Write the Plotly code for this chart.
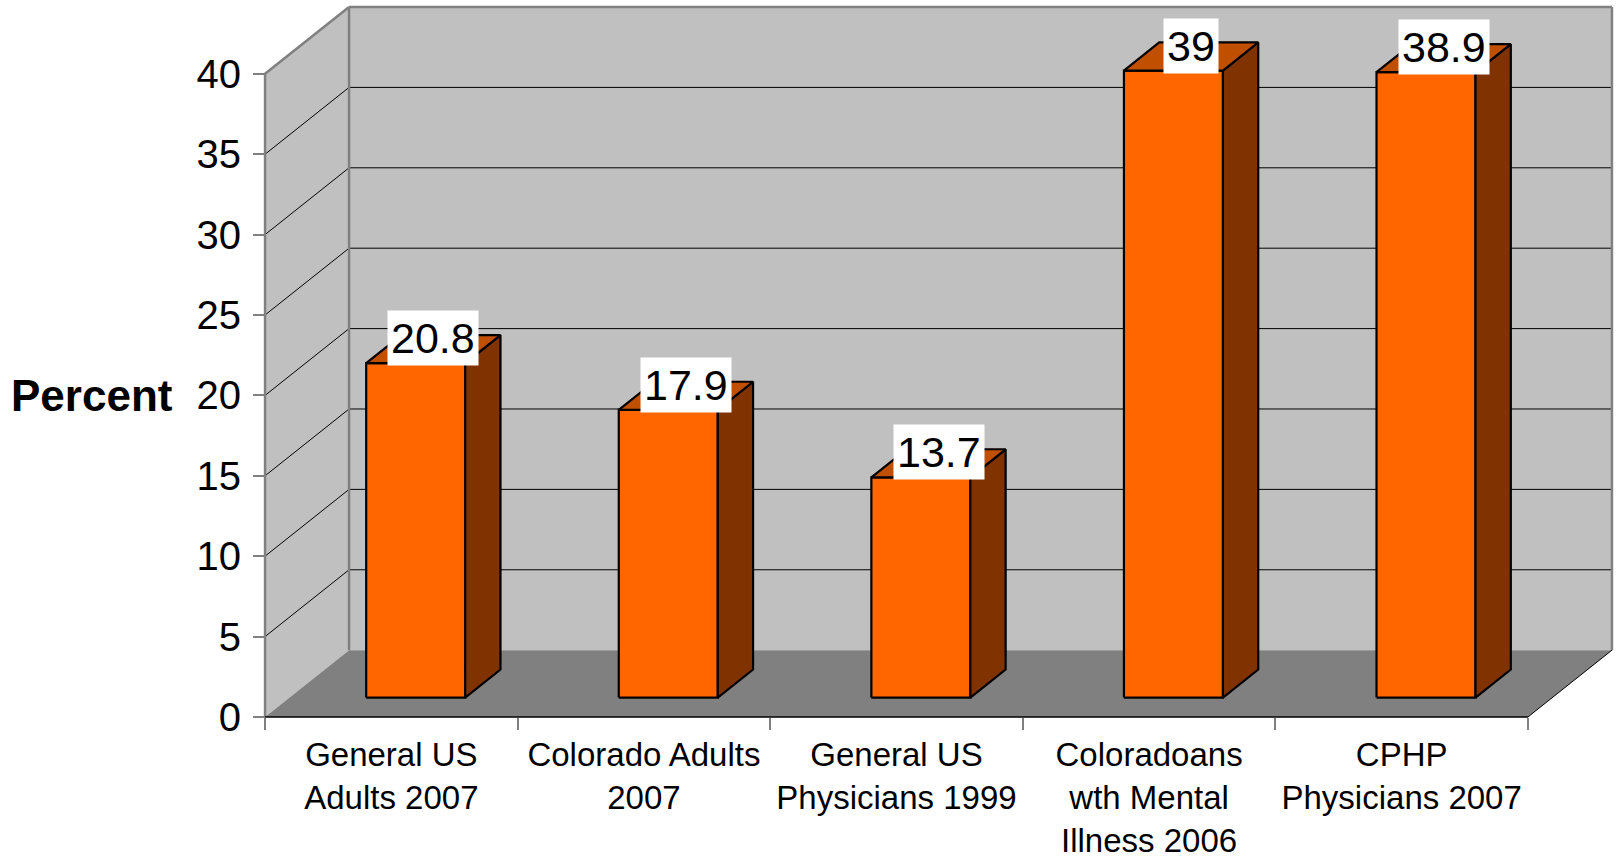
import plotly.graph_objects as go

# ---------------- data ----------------
categories = [
    "General US<br>Adults 2007",
    "Colorado Adults<br>2007",
    "General US<br>Physicians 1999",
    "Coloradoans<br>wth Mental<br>Illness 2006",
    "CPHP<br>Physicians 2007",
]
values = [20.8, 17.9, 13.7, 39, 38.9]
y_ticks = [0, 5, 10, 15, 20, 25, 30, 35, 40]
y_max = 40
axis_title = "Percent"

# ---------------- layout geometry ----------------
W, H = 1619, 861
PX0, PX5 = 265, 1528      # pixel of front x=0 and x=n
PY0, PYTOP = 719, 74      # pixel of front y=0 and y=y_max
DEPTH_PX = (84, 67)       # oblique depth offset in pixels
n = len(categories)
kx = (PX5 - PX0) / n
ky = (PY0 - PYTOP) / y_max
DX = DEPTH_PX[0] / kx
DY = DEPTH_PX[1] / ky
pad_x, pad_y = 0.02, 0.25
xr = [-pad_x, n + DX + pad_x]
yr = [-pad_y, y_max + DY + pad_y]
ml = PX0 - pad_x * kx
mr = max(0, W - (PX0 + (n + DX + pad_x) * kx))
mb = H - (PY0 + pad_y * ky)
mt = max(0, PY0 - (y_max + DY + pad_y) * ky)

FONT = "Liberation Sans, Arial, sans-serif"
WALL = "#C0C0C0"
FLOOR = "#808080"
EDGE = "#808080"
BAR_FRONT = "#FF6600"
BAR_SIDE = "#803300"
BAR_TOP = "#C05000"

BAR_HALF = 0.196
D0, D1 = 0.29, 0.71


def P(x, y, d=0.0):
    return (x + d * DX, y + d * DY)


def path(pts):
    return "M " + " L ".join(f"{x},{y}" for x, y in pts) + " Z"


shapes = []
# side wall
shapes.append(dict(type="path", xref="x", yref="y", layer="below",
                   path=path([P(0, 0), P(0, 0, 1), P(0, y_max, 1), P(0, y_max)]),
                   fillcolor=WALL, line=dict(width=0)))
# back wall
shapes.append(dict(type="path", xref="x", yref="y", layer="below",
                   path=path([P(0, 0, 1), P(n, 0, 1), P(n, y_max, 1), P(0, y_max, 1)]),
                   fillcolor=WALL, line=dict(width=0)))
# floor
shapes.append(dict(type="path", xref="x", yref="y", layer="below",
                   path=path([P(0, 0), P(n, 0), P(n, 0, 1), P(0, 0, 1)]),
                   fillcolor=FLOOR, line=dict(width=0)))


def seg(a, b, color, width):
    shapes.append(dict(type="line", xref="x", yref="y", layer="below",
                       x0=a[0], y0=a[1], x1=b[0], y1=b[1],
                       line=dict(color=color, width=width)))


# gridlines
for v in y_ticks:
    if v == 0 or v == y_max:
        continue
    seg(P(0, v), P(0, v, 1), "black", 1)
    seg(P(0, v, 1), P(n, v, 1), "black", 1)

# wall edges
seg(P(0, 0), P(0, y_max), EDGE, 2.5)
seg(P(0, y_max), P(0, y_max, 1), EDGE, 2.5)
seg(P(0, 0, 1), P(0, y_max, 1), EDGE, 2.5)
seg(P(0, y_max, 1), P(n, y_max, 1), EDGE, 2.5)
seg(P(n, y_max, 1), P(n, 0, 1), EDGE, 2.5)
# floor edges
seg(P(0, 0), P(n, 0), "black", 1.5)
seg(P(n, 0), P(n, 0, 1), "black", 1)

fig = go.Figure()

annotations = []
for i, v in enumerate(values):
    cx = i + 0.5
    l, r = cx - BAR_HALF, cx + BAR_HALF
    faces = [
        ([P(l, 0, D0), P(r, 0, D0), P(r, v, D0), P(l, v, D0)], BAR_FRONT),
        ([P(r, 0, D0), P(r, 0, D1), P(r, v, D1), P(r, v, D0)], BAR_SIDE),
        ([P(l, v, D0), P(r, v, D0), P(r, v, D1), P(l, v, D1)], BAR_TOP),
    ]
    for pts, col in faces:
        xs = [p[0] for p in pts] + [pts[0][0]]
        ys = [p[1] for p in pts] + [pts[0][1]]
        fig.add_trace(go.Scatter(x=xs, y=ys, mode="lines", fill="toself",
                                 fillcolor=col, line=dict(color="black", width=2.2),
                                 hoverinfo="skip", showlegend=False))
    tx, ty = P(cx, v, (D0 + D1) / 2)
    annotations.append(dict(x=tx, y=ty, xref="x", yref="y", text=f"{v:g}",
                            showarrow=False, yshift=11, bgcolor="white",
                            borderpad=3, font=dict(family=FONT, size=43, color="black")))

annotations.append(dict(x=0, y=20, xref="x", yref="y", text=f"<b>{axis_title}</b>",
                        showarrow=False, xanchor="right", yanchor="middle", xshift=-90,
                        font=dict(family=FONT, size=44, color="black")))

fig.update_layout(
    width=W, height=H, autosize=False,
    margin=dict(l=ml, r=mr, t=mt, b=mb, pad=0),
    paper_bgcolor="white", plot_bgcolor="rgba(0,0,0,0)",
    shapes=shapes, annotations=annotations, showlegend=False,
    xaxis=dict(range=xr, showgrid=False, zeroline=False, showline=False,
               tickmode="array", tickvals=[i + 0.5 for i in range(n)], ticktext=categories,
               ticks="", tickfont=dict(family=FONT, size=33, color="black"),
               anchor="free", position=pad_y / (yr[1] - yr[0]),
               ticklabelstandoff=15,
               minor=dict(tickmode="array", tickvals=list(range(n + 1)), ticks="outside",
                          ticklen=12, tickwidth=2, tickcolor=EDGE, showgrid=False),
               fixedrange=True),
    yaxis=dict(range=yr, showgrid=False, zeroline=False, showline=False,
               tickmode="array", tickvals=y_ticks, ticks="outside", ticklen=12,
               tickwidth=2, tickcolor=EDGE,
               tickfont=dict(family=FONT, size=40, color="black"),
               anchor="free", position=pad_x / (xr[1] - xr[0]),
               ticklabelstandoff=4, fixedrange=True),
)

fig.write_html("out.html")
